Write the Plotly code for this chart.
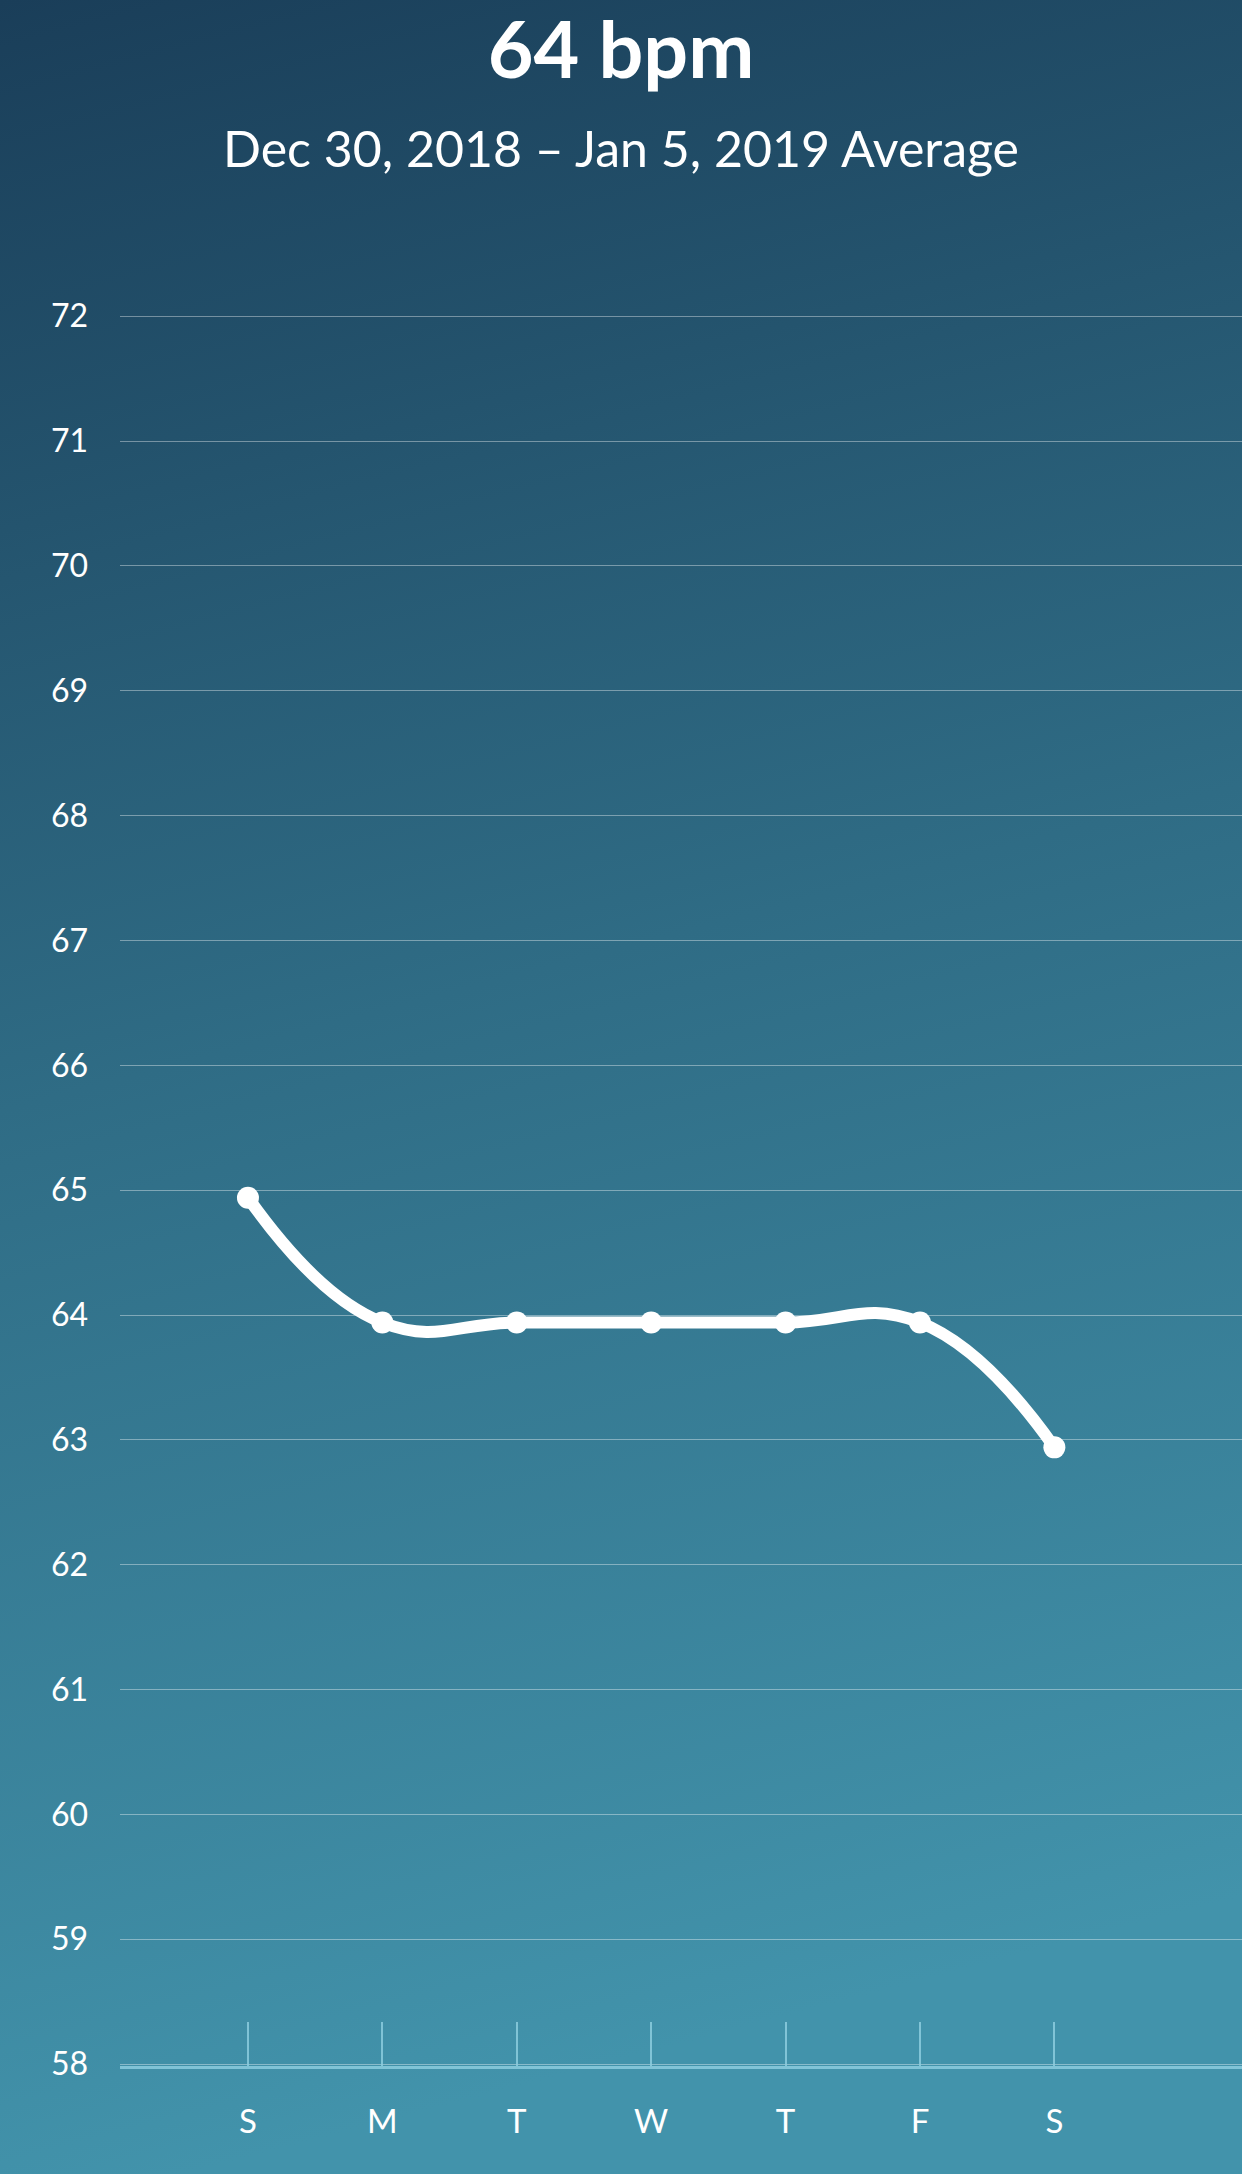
"""Weekly resting heart rate line chart on a teal gradient."""

import base64

import plotly.graph_objects as go

days = ["S", "M", "T", "W", "T", "F", "S"]
bpm = [64.94, 63.94, 63.94, 63.94, 63.94, 63.94, 62.94]
y_ticks = list(range(58, 73))

title_text = "64 bpm"
subtitle_text = "Dec 30, 2018 \u2013 Jan 5, 2019 Average"

W, H = 1242, 2174
L, R, T, B = 120, 0, 310, 108
FONT = "Lato, 'Open Sans', sans-serif"

# vertical gradient background as an svg image
svg = (
    f'<svg xmlns="http://www.w3.org/2000/svg" width="{W}" height="{H}" preserveAspectRatio="none">'
    '<defs><linearGradient id="g" x1="0" y1="0" x2="0.15" y2="1">'
    '<stop offset="0" stop-color="#1a3e59"/>'
    '<stop offset="0.5" stop-color="#2f6c85"/>'
    '<stop offset="1" stop-color="#4293ab"/>'
    "</linearGradient></defs>"
    f'<rect width="{W}" height="{H}" fill="url(#g)"/></svg>'
)
bg_src = "data:image/svg+xml;base64," + base64.b64encode(svg.encode()).decode()

plot_w, plot_h = W - L - R, H - T - B

fig = go.Figure()
fig.add_trace(
    go.Scatter(
        x=list(range(len(days))),
        y=bpm,
        mode="lines+markers",
        line={"color": "white", "width": 12, "shape": "spline", "smoothing": 1.3},
        marker={"color": "white", "size": 22},
        cliponaxis=False,
        hoverinfo="skip",
    )
)

fig.update_layout(
    width=W,
    height=H,
    margin={"l": L, "r": R, "t": T, "b": B},
    paper_bgcolor="#2f6c85",
    plot_bgcolor="rgba(0,0,0,0)",
    showlegend=False,
    font={"family": FONT, "color": "white"},
    title={
        "text": f"<b>{title_text}</b>",
        "x": 0.5,
        "xanchor": "center",
        "xref": "container",
        "y": 1 - 50 / H,
        "yref": "container",
        "yanchor": "middle",
        "font": {"size": 79, "family": FONT, "color": "white"},
    },
    images=[
        {
            "source": bg_src,
            "xref": "paper",
            "yref": "paper",
            "x": -L / plot_w,
            "y": (plot_h + T) / plot_h,
            "sizex": W / plot_w,
            "sizey": H / plot_h,
            "sizing": "stretch",
            "xanchor": "left",
            "yanchor": "top",
            "layer": "below",
        }
    ],
    annotations=[
        {
            "text": subtitle_text,
            "xref": "paper",
            "yref": "paper",
            "x": (W / 2 - L) / plot_w,
            "y": (plot_h + T - 148) / plot_h,
            "xanchor": "center",
            "yanchor": "middle",
            "showarrow": False,
            "font": {"size": 50, "family": FONT, "color": "white"},
        }
    ],
)

fig.update_xaxes(
    range=[-0.952, 7.396],
    tickvals=list(range(len(days))),
    ticktext=days,
    showgrid=False,
    zeroline=False,
    showline=True,
    linecolor="rgba(140,205,222,0.85)",
    linewidth=3,
    ticks="inside",
    ticklen=44,
    tickwidth=2,
    tickcolor="rgba(140,205,222,0.85)",
    ticklabelstandoff=24,
    tickfont={"size": 33, "color": "white"},
    fixedrange=True,
)
fig.update_yaxes(
    range=[57.985, 72.05],
    tickvals=y_ticks,
    showgrid=True,
    gridcolor="rgba(255,255,255,0.38)",
    gridwidth=1,
    zeroline=False,
    showline=False,
    ticks="",
    ticklabelstandoff=31,
    tickfont={"size": 32, "color": "white"},
    fixedrange=True,
)

fig.write_html(
    "out.html",
    config={"displayModeBar": False},
    post_script="document.body.style.margin='0';",
)
